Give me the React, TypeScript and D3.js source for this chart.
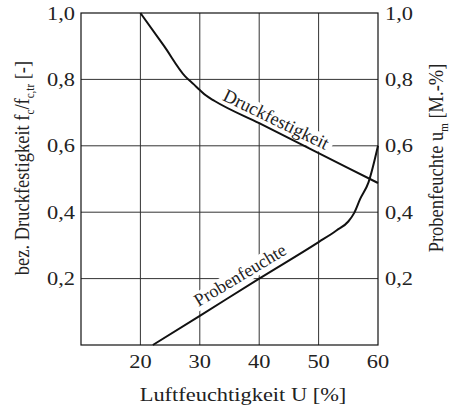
import React from "react";
import * as d3 from "d3";

const xTicks = [20, 30, 40, 50, 60];
const yTicks = [0.2, 0.4, 0.6, 0.8, 1.0];
const yTickLabels = ["0,2", "0,4", "0,6", "0,8", "1,0"];

// Druckfestigkeit (left axis)
const druckU = [20, 24, 27.5, 29, 30, 31, 32.5, 40, 50, 60];
const druckV = [1.0, 0.9, 0.81, 0.785, 0.768, 0.752, 0.735, 0.668, 0.578, 0.488];

// Probenfeuchte (right axis)
const probeU = [22.1, 30, 40, 50, 53, 55, 56, 57, 58.4, 60];
const probeV = [0, 0.088, 0.2, 0.31, 0.345, 0.372, 0.398, 0.44, 0.49, 0.6];

const FONT = "'Liberation Serif', 'Times New Roman', serif";
const SX = 1.18;

function T(props: { x: number; y: number; anchor?: string; size?: number; dy?: string; children: React.ReactNode }) {
  const { x, y, anchor = "middle", size = 19, dy } = props;
  return (
    <text
      transform={`translate(${x},${y}) scale(${SX},1)`}
      dy={dy}
      textAnchor={anchor}
      fontFamily={FONT}
      fontSize={size}
      fill="#222"
    >
      {props.children}
    </text>
  );
}

export default function App() {
  const W = 451, H = 409;
  const left = 81, right = 378, top = 13, bottom = 345;
  const x = d3.scaleLinear().domain([10, 60]).range([left, right]);
  const y = d3.scaleLinear().domain([0, 1]).range([bottom, top]);

  const line = d3
    .line<[number, number]>()
    .x((d) => x(d[0]))
    .y((d) => y(d[1]))
    .curve(d3.curveMonotoneX);

  const druck = line(druckU.map((u, i) => [u, druckV[i]]) as [number, number][]) || "";
  const probe = line(probeU.map((u, i) => [u, probeV[i]]) as [number, number][]) || "";

  const fs = 19;
  return (
    <svg width={W} height={H} style={{ display: "block", position: "absolute", left: 0, top: 0 }}>
      <rect width={W} height={H} fill="#fff" />
      {[20, 30, 40, 50].map((t) => (
        <line key={"v" + t} x1={x(t)} x2={x(t)} y1={top} y2={bottom} stroke="#333" strokeWidth={1} />
      ))}
      {[0.2, 0.4, 0.6, 0.8].map((t) => (
        <line key={"h" + t} x1={left} x2={right} y1={y(t)} y2={y(t)} stroke="#333" strokeWidth={1} />
      ))}
      <rect x={left} y={top} width={right - left} height={bottom - top} fill="none" stroke="#111" strokeWidth={1.2} />

      {/* label masks + labels */}
      <g transform={`translate(${x(42.4)},${y(0.648) - 5}) rotate(26)`}>
        <rect x={-62} y={-14} width={124} height={18} fill="#fff" />
        <text textAnchor="middle" fontFamily={FONT} fontSize={18.5} fill="#222">Druckfestigkeit</text>
      </g>
      <g transform={`translate(${x(37.3)},${y(0.195)}) rotate(-31)`}>
        <rect x={-60} y={-14} width={120} height={18} fill="#fff" />
        <text textAnchor="middle" fontFamily={FONT} fontSize={18} fill="#222">Probenfeuchte</text>
      </g>

      <path d={druck} fill="none" stroke="#111" strokeWidth={2} />
      <path d={probe} fill="none" stroke="#111" strokeWidth={2} />

      {yTicks.map((t, i) => (
        <T key={"yl" + t} x={75} y={y(t)} dy="0.35em" anchor="end" size={fs}>
          {yTickLabels[i]}
        </T>
      ))}
      {yTicks.map((t, i) => (
        <T key={"yr" + t} x={385} y={y(t)} dy="0.35em" anchor="start" size={fs}>
          {yTickLabels[i]}
        </T>
      ))}
      {xTicks.map((t) => (
        <T key={"xl" + t} x={x(t)} y={368} anchor="middle" size={fs}>
          {t}
        </T>
      ))}
      <T x={243} y={401} anchor="middle" size={fs}>
        Luftfeuchtigkeit U [%]
      </T>
      <text transform={`translate(29,168) rotate(-90) scale(1,${SX})`} textAnchor="middle" fontFamily={FONT} fontSize={18.5} fill="#222">
        bez. Druckfestigkeit f<tspan fontSize={11} dy={4}>c</tspan>
        <tspan dy={-4}>/f</tspan>
        <tspan fontSize={11} dy={4}>c,tr</tspan>
        <tspan dy={-4}> [-]</tspan>
      </text>
      <text transform={`translate(443,158) rotate(-90) scale(1,${SX})`} textAnchor="middle" fontFamily={FONT} fontSize={18.5} fill="#222">
        Probenfeuchte u<tspan fontSize={11} dy={4}>m</tspan>
        <tspan dy={-4}> [M.-%]</tspan>
      </text>
    </svg>
  );
}
